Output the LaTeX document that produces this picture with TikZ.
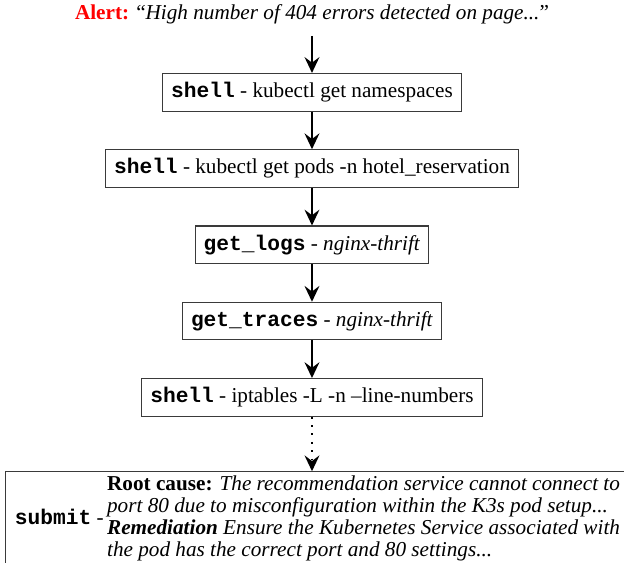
\documentclass[tikz,border=0pt]{standalone}
\usepackage{fontspec}
\setmainfont{Liberation Serif}
\setmonofont{Liberation Mono}
\usetikzlibrary{arrows.meta,positioning}
\definecolor{AlertRed}{HTML}{FF0000}
\definecolor{Frame}{HTML}{3A3A3A}
\newcommand{\tool}[1]{\texttt{\textbf{#1}}}
\tikzset{
  toolbox/.style={draw=Frame,line width=0.6pt,inner xsep=4.5pt,minimum height=20.2pt},
  resultbox/.style={draw=Frame,line width=0.6pt,inner xsep=5pt,inner ysep=2pt,
    font=\fontsize{11.4}{11.7}\selectfont},
  arrow/.style={-{Stealth[length=8.5pt,width=8pt,inset=3pt]},line width=1pt},
  dotarrow/.style={arrow,dash pattern=on 1pt off 3.5pt}
}

\begin{document}
\begin{tikzpicture}[node distance=20.2pt,font=\fontsize{11.4}{13.7}\selectfont]
  \useasboundingbox (-167.7pt,7.5pt) rectangle (167.7pt,-294.6pt);
  \node (alert) at (0,0) {\textcolor{AlertRed}{\textbf{Alert:}} ``\textit{High number of 404 errors detected on page...}''};
  \node[toolbox,below=31.7pt of alert.center] (ns) {\tool{shell} - kubectl get namespaces};
  \node[toolbox,below=of ns] (pods) {\tool{shell} - kubectl get pods -n hotel\_reservation};
  \node[toolbox,below=of pods] (logs) {\tool{get\_logs} - \textit{nginx-thrift}};
  \node[toolbox,below=of logs] (traces) {\tool{get\_traces} - \textit{nginx-thrift}};
  \node[toolbox,below=of traces] (iptables) {\tool{shell} - iptables -L -n --line-numbers};
  \node[resultbox,below=29.3pt of iptables.south,anchor=north west,xshift=-165pt] (submit)
    {\tool{submit} -\,\begin{tabular}{@{}l@{}}
      \textbf{Root cause:} \textit{The recommendation service cannot connect to}\\
      \textit{port 80 due to misconfiguration within the K3s pod setup...}\\
      \textbf{\textit{Remediation}} \textit{Ensure the Kubernetes Service associated with}\\
      \textit{the pod has the correct port and 80 settings...}
    \end{tabular}};
  \draw[arrow,shorten <=3pt] (alert.south) -- (ns.north);
  \draw[arrow] (ns) -- (pods);
  \draw[arrow] (pods) -- (logs);
  \draw[arrow] (logs) -- (traces);
  \draw[arrow] (traces) -- (iptables);
  \draw[dotarrow] (iptables.south) -- (iptables.south |- submit.north);
\end{tikzpicture}
\end{document}
